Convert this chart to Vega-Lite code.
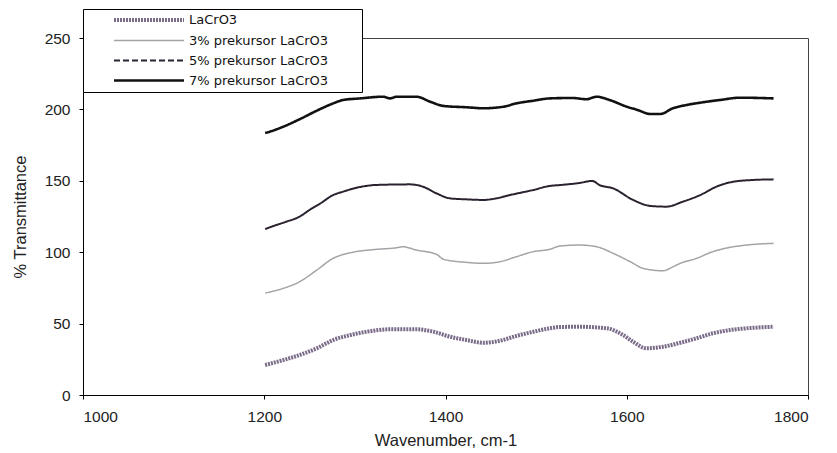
{
  "$schema": "https://vega.github.io/schema/vega-lite/v6.json",
  "width": 725,
  "height": 357,
  "autosize": {"type": "none"},
  "padding": {"left": 83, "top": 38, "right": 29, "bottom": 58},
  "background": "white",
  "config": {
    "font": "Liberation Sans",
    "view": {"stroke": "#444", "strokeWidth": 1},
    "legend": {
      "orient": "none",
      "legendX": 0,
      "legendY": -29,
      "symbolType": "M-7,0H7",
      "symbolSize": 100,
      "symbolOffset": 55,
      "labelFont": "DejaVu Sans",
      "labelFontSize": 13,
      "labelOffset": 33,
      "labelColor": "#111",
      "rowPadding": 6,
      "padding": 4,
      "strokeColor": "#000",
      "fillColor": "white",
      "titleOrient": "right",
      "titlePadding": 30
    }
  },
  "data": {"values": [
    {"s": "LaCrO3", "wn": 1201, "t": 21},
    {"s": "LaCrO3", "wn": 1221, "t": 24.5},
    {"s": "LaCrO3", "wn": 1239, "t": 28},
    {"s": "LaCrO3", "wn": 1258, "t": 32.7},
    {"s": "LaCrO3", "wn": 1276, "t": 38.5},
    {"s": "LaCrO3", "wn": 1295, "t": 42},
    {"s": "LaCrO3", "wn": 1313, "t": 44.3},
    {"s": "LaCrO3", "wn": 1339, "t": 46},
    {"s": "LaCrO3", "wn": 1368, "t": 46},
    {"s": "LaCrO3", "wn": 1387, "t": 44.3},
    {"s": "LaCrO3", "wn": 1405, "t": 40.8},
    {"s": "LaCrO3", "wn": 1423, "t": 38.5},
    {"s": "LaCrO3", "wn": 1442, "t": 36.6},
    {"s": "LaCrO3", "wn": 1460, "t": 38},
    {"s": "LaCrO3", "wn": 1478, "t": 41.3},
    {"s": "LaCrO3", "wn": 1497, "t": 44.3},
    {"s": "LaCrO3", "wn": 1515, "t": 46.7},
    {"s": "LaCrO3", "wn": 1526, "t": 47.6},
    {"s": "LaCrO3", "wn": 1548, "t": 47.8},
    {"s": "LaCrO3", "wn": 1578, "t": 46.7},
    {"s": "LaCrO3", "wn": 1596, "t": 42},
    {"s": "LaCrO3", "wn": 1607, "t": 37.3},
    {"s": "LaCrO3", "wn": 1622, "t": 32.7},
    {"s": "LaCrO3", "wn": 1640, "t": 33.8},
    {"s": "LaCrO3", "wn": 1659, "t": 36.6},
    {"s": "LaCrO3", "wn": 1677, "t": 39.7},
    {"s": "LaCrO3", "wn": 1695, "t": 43.2},
    {"s": "LaCrO3", "wn": 1714, "t": 45.5},
    {"s": "LaCrO3", "wn": 1732, "t": 46.7},
    {"s": "LaCrO3", "wn": 1762, "t": 47.8},

    {"s": "3% prekursor LaCrO3", "wn": 1201, "t": 71.4},
    {"s": "3% prekursor LaCrO3", "wn": 1221, "t": 74.7},
    {"s": "3% prekursor LaCrO3", "wn": 1239, "t": 79.3},
    {"s": "3% prekursor LaCrO3", "wn": 1258, "t": 87.5},
    {"s": "3% prekursor LaCrO3", "wn": 1276, "t": 95.7},
    {"s": "3% prekursor LaCrO3", "wn": 1295, "t": 99.6},
    {"s": "3% prekursor LaCrO3", "wn": 1324, "t": 102},
    {"s": "3% prekursor LaCrO3", "wn": 1346, "t": 103.1},
    {"s": "3% prekursor LaCrO3", "wn": 1353, "t": 103.8},
    {"s": "3% prekursor LaCrO3", "wn": 1368, "t": 101.5},
    {"s": "3% prekursor LaCrO3", "wn": 1390, "t": 98.5},
    {"s": "3% prekursor LaCrO3", "wn": 1398, "t": 95},
    {"s": "3% prekursor LaCrO3", "wn": 1423, "t": 92.9},
    {"s": "3% prekursor LaCrO3", "wn": 1442, "t": 92.2},
    {"s": "3% prekursor LaCrO3", "wn": 1460, "t": 93.3},
    {"s": "3% prekursor LaCrO3", "wn": 1478, "t": 96.8},
    {"s": "3% prekursor LaCrO3", "wn": 1497, "t": 100.4},
    {"s": "3% prekursor LaCrO3", "wn": 1515, "t": 102},
    {"s": "3% prekursor LaCrO3", "wn": 1526, "t": 104.3},
    {"s": "3% prekursor LaCrO3", "wn": 1548, "t": 105},
    {"s": "3% prekursor LaCrO3", "wn": 1567, "t": 103.8},
    {"s": "3% prekursor LaCrO3", "wn": 1585, "t": 99.2},
    {"s": "3% prekursor LaCrO3", "wn": 1604, "t": 93.3},
    {"s": "3% prekursor LaCrO3", "wn": 1618, "t": 88.7},
    {"s": "3% prekursor LaCrO3", "wn": 1640, "t": 87},
    {"s": "3% prekursor LaCrO3", "wn": 1651, "t": 89.8},
    {"s": "3% prekursor LaCrO3", "wn": 1659, "t": 92.2},
    {"s": "3% prekursor LaCrO3", "wn": 1677, "t": 95.7},
    {"s": "3% prekursor LaCrO3", "wn": 1695, "t": 100.4},
    {"s": "3% prekursor LaCrO3", "wn": 1714, "t": 103.4},
    {"s": "3% prekursor LaCrO3", "wn": 1732, "t": 105},
    {"s": "3% prekursor LaCrO3", "wn": 1762, "t": 106.2},

    {"s": "5% prekursor LaCrO3", "wn": 1201, "t": 116.2},
    {"s": "5% prekursor LaCrO3", "wn": 1206, "t": 117.4},
    {"s": "5% prekursor LaCrO3", "wn": 1223, "t": 121.1},
    {"s": "5% prekursor LaCrO3", "wn": 1239, "t": 124.9},
    {"s": "5% prekursor LaCrO3", "wn": 1250, "t": 129.6},
    {"s": "5% prekursor LaCrO3", "wn": 1262, "t": 134.2},
    {"s": "5% prekursor LaCrO3", "wn": 1276, "t": 140},
    {"s": "5% prekursor LaCrO3", "wn": 1287, "t": 142.4},
    {"s": "5% prekursor LaCrO3", "wn": 1306, "t": 145.7},
    {"s": "5% prekursor LaCrO3", "wn": 1324, "t": 147.1},
    {"s": "5% prekursor LaCrO3", "wn": 1361, "t": 147.5},
    {"s": "5% prekursor LaCrO3", "wn": 1375, "t": 145.9},
    {"s": "5% prekursor LaCrO3", "wn": 1390, "t": 141.2},
    {"s": "5% prekursor LaCrO3", "wn": 1405, "t": 137.7},
    {"s": "5% prekursor LaCrO3", "wn": 1423, "t": 137},
    {"s": "5% prekursor LaCrO3", "wn": 1442, "t": 136.6},
    {"s": "5% prekursor LaCrO3", "wn": 1456, "t": 137.7},
    {"s": "5% prekursor LaCrO3", "wn": 1471, "t": 140},
    {"s": "5% prekursor LaCrO3", "wn": 1497, "t": 143.6},
    {"s": "5% prekursor LaCrO3", "wn": 1515, "t": 146.4},
    {"s": "5% prekursor LaCrO3", "wn": 1526, "t": 147},
    {"s": "5% prekursor LaCrO3", "wn": 1548, "t": 148.5},
    {"s": "5% prekursor LaCrO3", "wn": 1562, "t": 149.9},
    {"s": "5% prekursor LaCrO3", "wn": 1570, "t": 147},
    {"s": "5% prekursor LaCrO3", "wn": 1585, "t": 144.7},
    {"s": "5% prekursor LaCrO3", "wn": 1607, "t": 136.6},
    {"s": "5% prekursor LaCrO3", "wn": 1626, "t": 132.4},
    {"s": "5% prekursor LaCrO3", "wn": 1644, "t": 131.9},
    {"s": "5% prekursor LaCrO3", "wn": 1662, "t": 135.4},
    {"s": "5% prekursor LaCrO3", "wn": 1681, "t": 140},
    {"s": "5% prekursor LaCrO3", "wn": 1699, "t": 145.9},
    {"s": "5% prekursor LaCrO3", "wn": 1718, "t": 149.4},
    {"s": "5% prekursor LaCrO3", "wn": 1740, "t": 150.6},
    {"s": "5% prekursor LaCrO3", "wn": 1762, "t": 151},

    {"s": "7% prekursor LaCrO3", "wn": 1201, "t": 183.5},
    {"s": "7% prekursor LaCrO3", "wn": 1206, "t": 184.4},
    {"s": "7% prekursor LaCrO3", "wn": 1221, "t": 187.9},
    {"s": "7% prekursor LaCrO3", "wn": 1239, "t": 193.1},
    {"s": "7% prekursor LaCrO3", "wn": 1258, "t": 199.1},
    {"s": "7% prekursor LaCrO3", "wn": 1276, "t": 204.2},
    {"s": "7% prekursor LaCrO3", "wn": 1287, "t": 206.6},
    {"s": "7% prekursor LaCrO3", "wn": 1306, "t": 207.7},
    {"s": "7% prekursor LaCrO3", "wn": 1331, "t": 208.9},
    {"s": "7% prekursor LaCrO3", "wn": 1339, "t": 207.7},
    {"s": "7% prekursor LaCrO3", "wn": 1346, "t": 208.9},
    {"s": "7% prekursor LaCrO3", "wn": 1368, "t": 208.9},
    {"s": "7% prekursor LaCrO3", "wn": 1383, "t": 205.4},
    {"s": "7% prekursor LaCrO3", "wn": 1398, "t": 202.4},
    {"s": "7% prekursor LaCrO3", "wn": 1423, "t": 201.5},
    {"s": "7% prekursor LaCrO3", "wn": 1442, "t": 200.8},
    {"s": "7% prekursor LaCrO3", "wn": 1464, "t": 201.9},
    {"s": "7% prekursor LaCrO3", "wn": 1478, "t": 204.2},
    {"s": "7% prekursor LaCrO3", "wn": 1497, "t": 206.1},
    {"s": "7% prekursor LaCrO3", "wn": 1515, "t": 207.7},
    {"s": "7% prekursor LaCrO3", "wn": 1540, "t": 208},
    {"s": "7% prekursor LaCrO3", "wn": 1556, "t": 207.1},
    {"s": "7% prekursor LaCrO3", "wn": 1562, "t": 208.2},
    {"s": "7% prekursor LaCrO3", "wn": 1567, "t": 208.9},
    {"s": "7% prekursor LaCrO3", "wn": 1581, "t": 206.6},
    {"s": "7% prekursor LaCrO3", "wn": 1600, "t": 201.9},
    {"s": "7% prekursor LaCrO3", "wn": 1612, "t": 199.6},
    {"s": "7% prekursor LaCrO3", "wn": 1626, "t": 196.8},
    {"s": "7% prekursor LaCrO3", "wn": 1637, "t": 196.8},
    {"s": "7% prekursor LaCrO3", "wn": 1651, "t": 200.8},
    {"s": "7% prekursor LaCrO3", "wn": 1666, "t": 203.1},
    {"s": "7% prekursor LaCrO3", "wn": 1681, "t": 204.7},
    {"s": "7% prekursor LaCrO3", "wn": 1703, "t": 206.6},
    {"s": "7% prekursor LaCrO3", "wn": 1725, "t": 208.2},
    {"s": "7% prekursor LaCrO3", "wn": 1762, "t": 207.7}
  ]},
  "mark": {"type": "line", "interpolate": "monotone", "strokeCap": "butt"},
  "encoding": {
    "x": {
      "field": "wn", "type": "quantitative",
      "scale": {"domain": [1000, 1800], "nice": false},
      "axis": {
        "title": "Wavenumber, cm-1", "values": [1000, 1200, 1400, 1600, 1800], "format": "d",
        "grid": false, "tickSize": 4, "labelFontSize": 15.5, "titleFontSize": 16.5,
        "titleFontWeight": "normal", "labelColor": "#222", "titleColor": "#222",
        "titlePadding": 8, "domainColor": "#000", "tickColor": "#000", "labelPadding": 10
      }
    },
    "y": {
      "field": "t", "type": "quantitative",
      "scale": {"domain": [0, 250], "nice": false},
      "axis": {
        "title": "% Transmittance", "values": [0, 50, 100, 150, 200, 250], "format": "d",
        "grid": false, "tickSize": 4, "labelFontSize": 15.5, "titleFontSize": 16.5,
        "titleFontWeight": "normal", "labelColor": "#222", "titleColor": "#222",
        "titlePadding": 16, "domainColor": "#000", "tickColor": "#000", "labelPadding": 9
      }
    },
    "color": {
      "field": "s", "type": "nominal",
      "scale": {
        "domain": ["LaCrO3", "3% prekursor LaCrO3", "5% prekursor LaCrO3", "7% prekursor LaCrO3"],
        "range": ["#7a6b88", "#a3a3a8", "#2b2230", "#111111"]
      },
      "legend": {
        "title": " ",
        "encode": {"symbols": {
          "enter": {"strokeDash": {"signal": "datum.value === '5% prekursor LaCrO3' ? [6, 3] : (datum.value === 'LaCrO3' ? [2, 1] : [1, 0])"}},
          "update": {"strokeDash": {"signal": "datum.value === '5% prekursor LaCrO3' ? [6, 3] : (datum.value === 'LaCrO3' ? [2, 1] : [1, 0])"}}
        }}
      }
    },
    "strokeWidth": {
      "field": "s", "type": "nominal",
      "scale": {
        "type": "ordinal",
        "domain": ["LaCrO3", "3% prekursor LaCrO3", "5% prekursor LaCrO3", "7% prekursor LaCrO3"],
        "range": [4, 1.5, 2, 2.6]
      },
      "legend": {"title": " "}
    },
    "strokeDash": {
      "condition": {"test": "datum.s === 'LaCrO3'", "value": [2, 1]},
      "value": [1, 0]
    }
  }
}
